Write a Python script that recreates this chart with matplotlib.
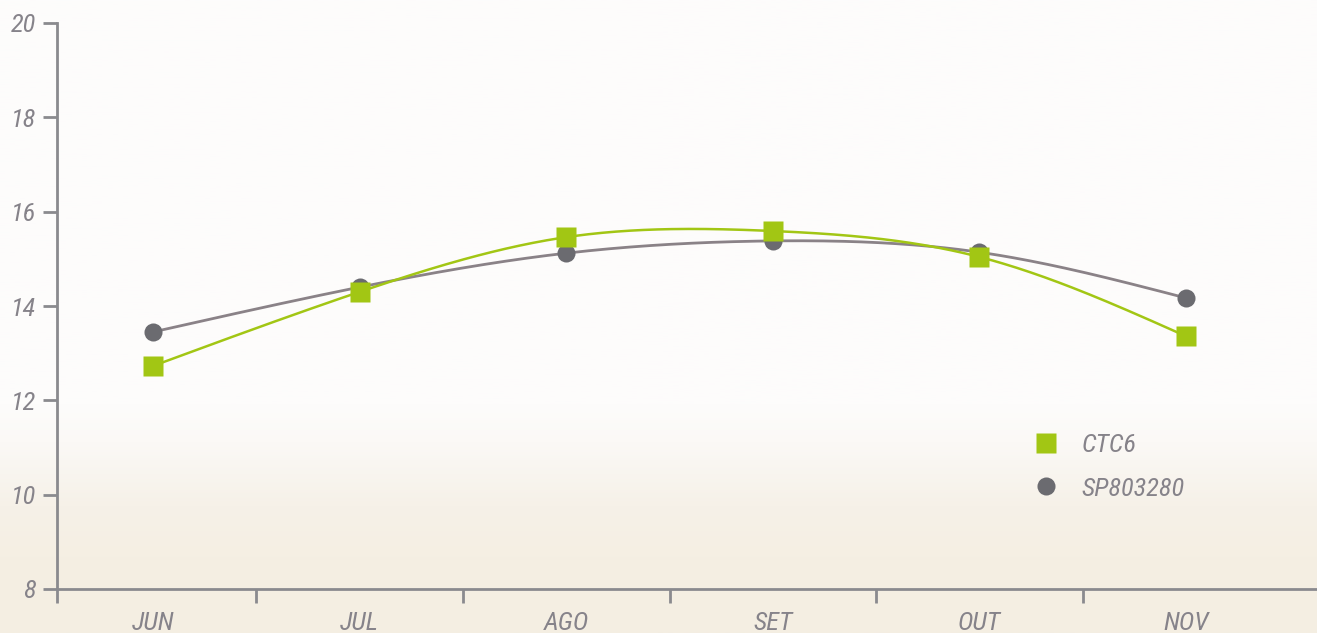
import numpy as np
import matplotlib
matplotlib.use("Agg")
import matplotlib.pyplot as plt
from matplotlib.lines import Line2D
from matplotlib.colors import LinearSegmentedColormap

months = ["JUN", "JUL", "AGO", "SET", "OUT", "NOV"]
ctc6 = [12.73, 14.30, 15.46, 15.59, 15.04, 13.36]
sp803280 = [13.45, 14.40, 15.12, 15.38, 15.14, 14.17]
yticks = [8, 10, 12, 14, 16, 18, 20]

GREEN = "#a2c614"
GRAY_M = "#6b6b70"
GRAY_L = "#8a8287"
TXT = "#86838a"
AX = "#8a8a8e"
FONT = ["Roboto Condensed", "Barlow Condensed", "Liberation Sans Narrow", "DejaVu Sans"]


def smooth(x, y, n=300):
    # natural cubic spline through the points (for drawing only)
    x = np.asarray(x, float); y = np.asarray(y, float)
    m = len(x)
    h = np.diff(x)
    A = np.zeros((m, m)); b = np.zeros(m)
    A[0, 0] = A[-1, -1] = 1
    for i in range(1, m - 1):
        A[i, i - 1] = h[i - 1]; A[i, i] = 2 * (h[i - 1] + h[i]); A[i, i + 1] = h[i]
        b[i] = 3 * ((y[i + 1] - y[i]) / h[i] - (y[i] - y[i - 1]) / h[i - 1])
    c = np.linalg.solve(A, b)
    xs = np.linspace(x[0], x[-1], n)
    ys = np.empty_like(xs)
    for k, xv in enumerate(xs):
        i = min(np.searchsorted(x, xv, side="right") - 1, m - 2)
        dx = xv - x[i]
        bb = (y[i + 1] - y[i]) / h[i] - h[i] * (2 * c[i] + c[i + 1]) / 3
        d = (c[i + 1] - c[i]) / (3 * h[i])
        ys[k] = y[i] + bb * dx + c[i] * dx ** 2 + d * dx ** 3
    return xs, ys


fig = plt.figure(figsize=(13.17, 6.33), dpi=100)

# background gradient
bg = fig.add_axes([0, 0, 1, 1], zorder=-10)
cmap = LinearSegmentedColormap.from_list(
    "bg", [(0.0, "#f4eee2"), (0.12, "#f5efe3"), (0.2, "#f6f1e8"), (0.3, "#fbf9f6"), (0.36, "#fdfcfb"), (1.0, "#fdfcfc")])
grad = np.linspace(0, 1, 256).reshape(-1, 1)
bg.imshow(grad, aspect="auto", cmap=cmap, origin="lower", extent=[0, 1, 0, 1])
bg.axis("off")

ax = fig.add_axes([57 / 1317, 44 / 633, 1 - 57 / 1317, (589 - 23) / 633])
ax.patch.set_alpha(0)

x = np.arange(len(months))
xs, ys = smooth(x, sp803280)
ax.plot(xs, ys, color=GRAY_L, lw=2.0, zorder=2)
ax.plot(x, sp803280, ls="none", marker="o", ms=13, color=GRAY_M, mec="none", zorder=3)
xs, ys = smooth(x, ctc6)
ax.plot(xs, ys, color=GREEN, lw=1.8, zorder=4)
ax.plot(x, ctc6, ls="none", marker="s", ms=15, color=GREEN, mec="none", zorder=5)

ax.set_xlim(-0.465, 5.634)
ax.set_ylim(8, 20)
ax.set_yticks(yticks)
ax.set_yticklabels([str(v) for v in yticks])
ax.set_xticks([-0.465, 0.5, 1.5, 2.5, 3.5, 4.5])
ax.set_xticklabels([])
ax.set_xticks(x, minor=True)
ax.set_xticklabels(months, minor=True)

for s in ["top", "right"]:
    ax.spines[s].set_visible(False)
for s in ["left", "bottom"]:
    ax.spines[s].set_color(AX)
    ax.spines[s].set_linewidth(2)

ax.tick_params(axis="y", which="major", direction="out", length=10, width=2, color=AX,
               labelcolor=TXT, labelsize=19, pad=5)
ax.tick_params(axis="x", which="major", direction="out", length=10, width=2, color=AX)
ax.tick_params(axis="x", which="minor", length=0, labelcolor=TXT, labelsize=19, pad=16)
for lab in ax.get_yticklabels() + ax.get_xticklabels(minor=True):
    lab.set_family(FONT)
    lab.set_style("italic")
    lab.set_weight("normal")

handles = [
    Line2D([], [], ls="none", marker="s", ms=15, color=GREEN, mec="none"),
    Line2D([], [], ls="none", marker="o", ms=13, color=GRAY_M, mec="none"),
]
leg = ax.legend(handles, ["CTC6", "SP803280"], loc="upper left",
                bbox_to_anchor=(996 / 1317, 1 - 409 / 633), bbox_transform=fig.transFigure,
                frameon=False, handletextpad=0.35, labelspacing=0.75,
                prop={"family": FONT, "style": "italic", "size": 19, "weight": "normal"})
for t in leg.get_texts():
    t.set_color(TXT)

fig.savefig("out.png", dpi=100)
